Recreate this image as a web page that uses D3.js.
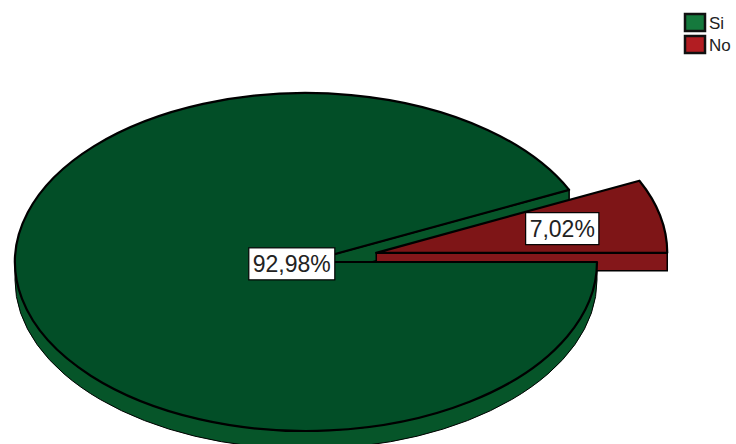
<!DOCTYPE html>
<html><head><meta charset="utf-8">
<script src="https://cdn.jsdelivr.net/npm/d3@7"></script>
<style>html,body{margin:0;padding:0;background:#fff;}svg{display:block;}</style>
</head><body>
<svg id="chart" width="736" height="444"></svg>
<script>
const categories = ["Si", "No"];
const values = [92.98, 7.02];
const labels = ["92,98%", "7,02%"];
const topColors = ["#024e27", "#7e1517"];
const sideColors = ["#065529", "#84171a"];
const legendColors = ["#15793d", "#b21d22"];
const explode = [0, 72];

const W = 736, H = 444;
const cx = 306, cy = 262, rx = 291, ry = 169, depth = 18;
const svg = d3.select("#chart");

const data = categories.map((c, i) => ({ cat: c, value: values[i], i }));
// d3 angles are clockwise from 12 o'clock; convert to math angle theta = PI/2 - a
const pie = d3.pie().value(d => d.value).sortValues(d3.ascending)
  .startAngle(Math.PI / 2).endAngle(Math.PI / 2 - 2 * Math.PI);
const arcs = pie(data).map(a => {
  const t0 = Math.PI / 2 - a.startAngle, t1 = Math.PI / 2 - a.endAngle;
  const tm = (t0 + t1) / 2;
  const e = explode[a.data.i];
  const ox = e * Math.cos(tm), oy = -e * Math.sin(tm) * ry / rx;
  return { d: a.data, t0, t1, tm, c: [cx + ox, cy + oy] };
});
const P = (c, t, dy = 0) => [c[0] + rx * Math.cos(t), c[1] - ry * Math.sin(t) + dy];

function topPath(a) {
  const p0 = P(a.c, a.t0), p1 = P(a.c, a.t1);
  const large = (a.t1 - a.t0) > Math.PI ? 1 : 0;
  return `M${a.c[0]},${a.c[1]}L${p0[0]},${p0[1]}A${rx},${ry} 0 ${large} 0 ${p1[0]},${p1[1]}Z`;
}
function rimPath(a) {
  const s = Math.max(a.t0, Math.PI), e = Math.min(a.t1, 2 * Math.PI);
  if (e <= s) return null;
  const p0 = P(a.c, s), p1 = P(a.c, e), q1 = P(a.c, e, depth), q0 = P(a.c, s, depth);
  return `M${p0[0]},${p0[1]}A${rx},${ry} 0 0 0 ${p1[0]},${p1[1]}L${q1[0]},${q1[1]}A${rx},${ry} 0 0 1 ${q0[0]},${q0[1]}Z`;
}
function wallPath(a, t) {
  const p = P(a.c, t);
  return `M${a.c[0]},${a.c[1]}L${p[0]},${p[1]}L${p[0]},${p[1] + depth}L${a.c[0]},${a.c[1] + depth}Z`;
}

const g = svg.append("g");
const green = arcs.find(a => a.d.cat === "Si");
const red = arcs.find(a => a.d.cat === "No");

// green side parts
g.append("path").attr("d", rimPath(green)).attr("fill", sideColors[0]).attr("stroke", "#000").attr("stroke-width", 1);
g.append("path").attr("d", wallPath(green, green.t0)).attr("fill", sideColors[0]).attr("stroke", "#000").attr("stroke-width", 1.5);
// red slice (behind)
g.append("path").attr("d", wallPath(red, red.t0)).attr("fill", sideColors[1]).attr("stroke", "#000").attr("stroke-width", 1.5);
g.append("path").attr("d", topPath(red)).attr("fill", topColors[1]).attr("stroke", "#000").attr("stroke-width", 2.2).attr("stroke-linejoin", "round");
// green top
g.append("path").attr("d", topPath(green)).attr("fill", topColors[0]).attr("stroke", "#000").attr("stroke-width", 2.2).attr("stroke-linejoin", "round");

// labels
const labelFrac = { Si: 0.05, No: 0.655 };
arcs.forEach(a => {
  const f = labelFrac[a.d.cat];
  const x = a.c[0] + f * rx * Math.cos(a.tm), y = a.c[1] - f * ry * Math.sin(a.tm);
  const lg = svg.append("g");
  const txt = lg.append("text").attr("x", x).attr("y", y).attr("text-anchor", "middle")
    .attr("dy", "0.36em").attr("font-family", "Liberation Sans, Arial, sans-serif")
    .attr("font-size", 23).attr("fill", "#222").text(labels[a.d.i]);
  const bb = txt.node().getBBox();
  lg.insert("rect", "text").attr("x", bb.x - 4).attr("y", y - 16).attr("width", bb.width + 8).attr("height", 32)
    .attr("fill", "#fff").attr("stroke", "#000").attr("stroke-width", 1.2);
});

// legend
const leg = svg.append("g").attr("transform", "translate(685,14)");
categories.forEach((c, i) => {
  const row = leg.append("g").attr("transform", `translate(0,${i * 22})`);
  row.append("rect").attr("x", 0).attr("y", 0).attr("width", 20).attr("height", 17)
    .attr("fill", legendColors[i]).attr("stroke", "#111").attr("stroke-width", 2.5);
  row.append("text").attr("x", 24).attr("y", 15).attr("font-family", "Liberation Sans, Arial, sans-serif")
    .attr("font-size", 17).attr("fill", "#222").text(c);
});
</script>
</body></html>
